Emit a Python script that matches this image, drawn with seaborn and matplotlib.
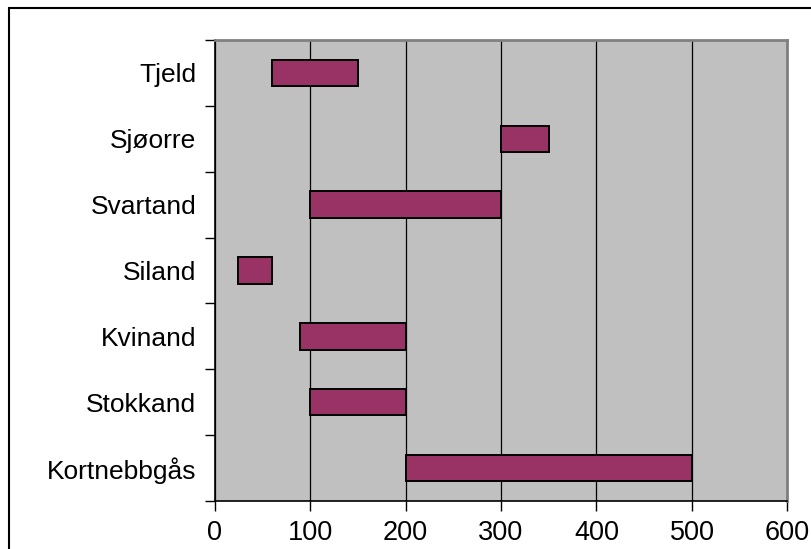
import numpy as np
import pandas as pd
import matplotlib
matplotlib.use("Agg")
import matplotlib.pyplot as plt
from matplotlib.patches import Rectangle
import seaborn as sns

# Observed ranges per species (start and end of each period)
species = ["Tjeld", "Sjøorre", "Svartand", "Siland", "Kvinand", "Stokkand", "Kortnebbgås"]
range_start = [60, 300, 100, 25, 90, 100, 200]
range_end = [150, 350, 300, 60, 200, 200, 500]
x_ticks = [0, 100, 200, 300, 400, 500, 600]

df = pd.DataFrame({"art": species, "start": range_start, "end": range_end})
df["span"] = df["end"] - df["start"]

sns.set_theme(style="white")
plt.rcParams["font.family"] = ["Liberation Sans", "DejaVu Sans"]
plt.rcParams["text.color"] = "black"
plt.rcParams["xtick.labelcolor"] = "black"
plt.rcParams["ytick.labelcolor"] = "black"

fig = plt.figure(figsize=(8.11, 5.49), dpi=100)
ax = fig.add_axes([0.2645, 0.0874, 0.7065, 0.8397])
ax.set_facecolor("#C0C0C0")

sns.barplot(data=df, x="span", y="art", order=species, orient="h",
            color="#993366", saturation=1, width=0.4,
            edgecolor="black", linewidth=1.4, ax=ax)

# shift each bar so it runs from its start to its end value
for patch, s, e in zip(ax.patches, df["start"], df["end"]):
    patch.set_x(s)
    patch.set_width(e - s)
    patch.set_zorder(3)

ax.set_xlim(0, 600)
ax.set_ylim(len(species) - 0.5, -0.5)
ax.set_xticks(x_ticks)
ax.set_xticklabels([str(v) for v in x_ticks], fontsize=19.5)
ax.xaxis.grid(True, color="black", linewidth=0.9)
ax.set_axisbelow(True)

# category boundaries get tick marks, names sit between them
ax.set_yticks(np.arange(-0.5, len(species), 1.0))
ax.set_yticklabels([])
ax.set_yticks(np.arange(len(species)), minor=True)
ax.set_yticklabels(species, minor=True, fontsize=19)
ax.tick_params(axis="y", which="major", length=7, width=1, color="black", direction="out", left=True)
ax.tick_params(axis="y", which="minor", length=0, pad=13)
ax.tick_params(axis="x", length=7, width=1, color="black", direction="out", bottom=True, pad=7)

ax.set_xlabel("")
ax.set_ylabel("")

for side in ("left", "bottom"):
    ax.spines[side].set_color("black")
    ax.spines[side].set_linewidth(1.2)
for side in ("top", "right"):
    ax.spines[side].set_visible(True)
    ax.spines[side].set_color("#808080")
    ax.spines[side].set_linewidth(2)

# outer chart frame
fig.patches.append(Rectangle((9 / 811, -0.1), 1.2, 1.1 - 8 / 549,
                             transform=fig.transFigure, fill=False,
                             edgecolor="black", linewidth=1.5))

fig.savefig("out.png", dpi=100)
